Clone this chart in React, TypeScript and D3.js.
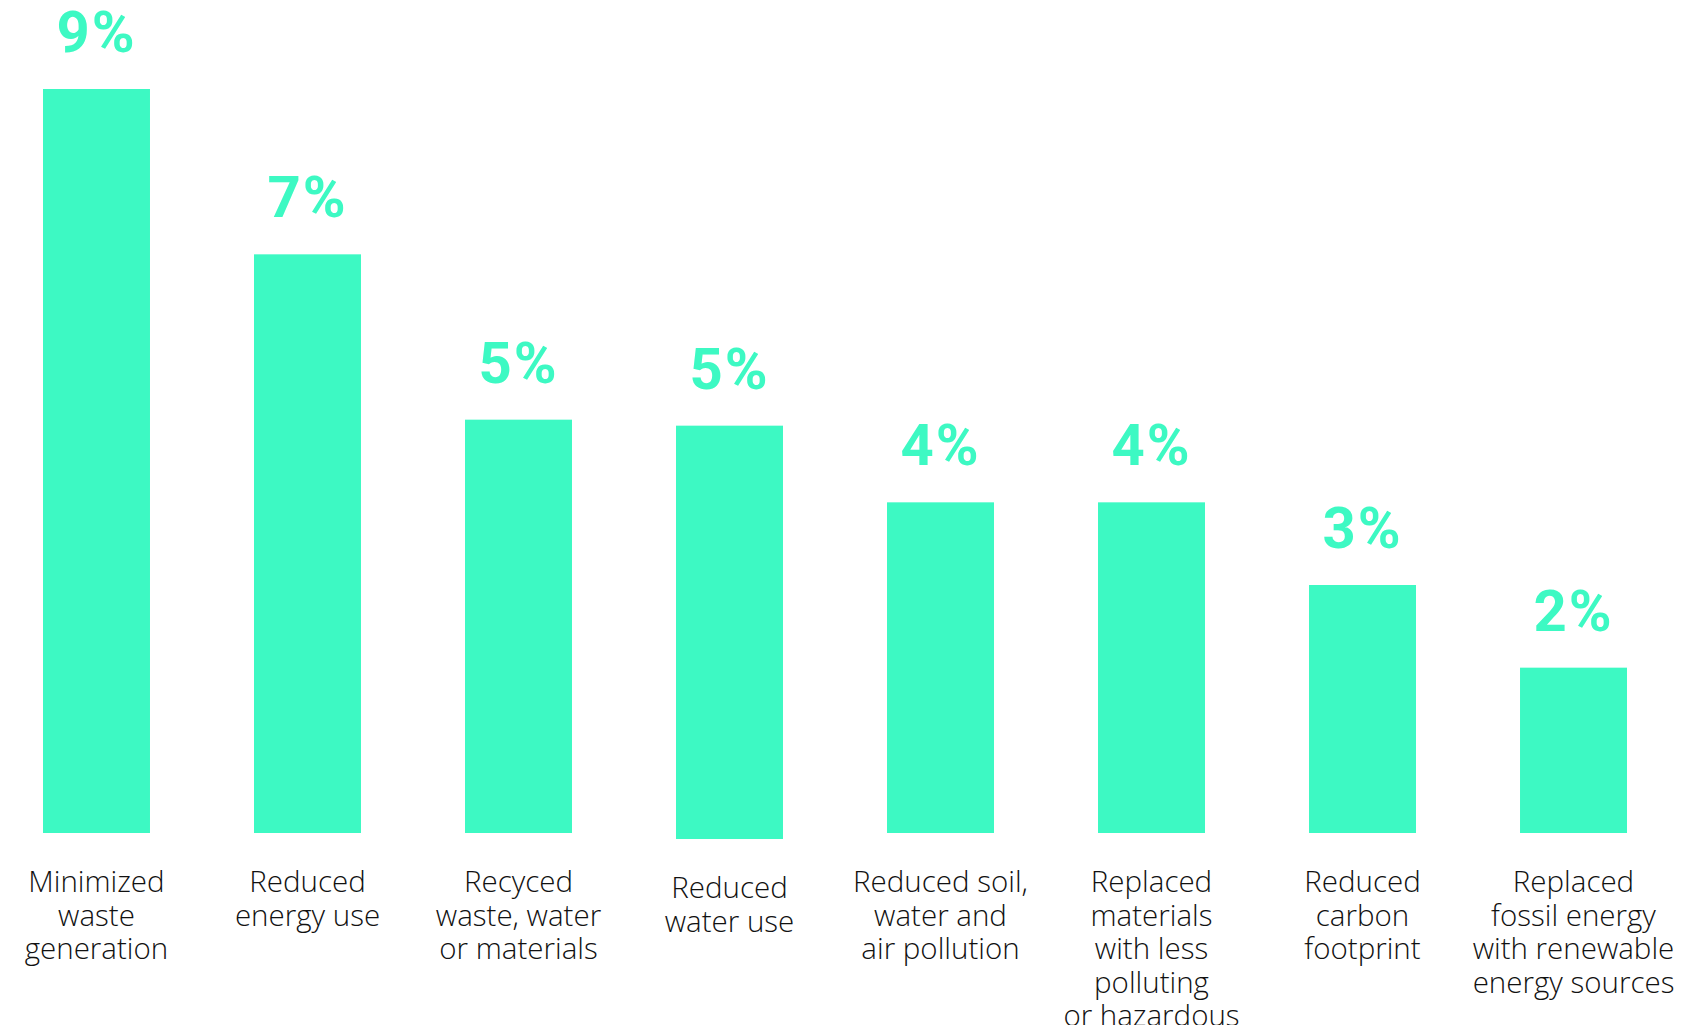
import React from "react";
import * as d3 from "d3";

const categories: string[][] = [
  ["Minimized", "waste", "generation"],
  ["Reduced", "energy use"],
  ["Recyced", "waste, water", "or materials"],
  ["Reduced", "water use"],
  ["Reduced soil,", "water and", "air pollution"],
  ["Replaced", "materials", "with less", "polluting", "or hazardous"],
  ["Reduced", "carbon", "footprint"],
  ["Replaced", "fossil energy", "with renewable", "energy sources"],
];
const values: number[] = [9, 7, 5, 5, 4, 4, 3, 2];
const valueLabels: string[] = ["9%", "7%", "5%", "5%", "4%", "4%", "3%", "2%"];

const W = 1686;
const H = 1025;
const BAR = "#3DF9C3";

export default function App() {
  const idx = values.map((_, i) => String(i));
  const x = d3.scaleBand<string>().domain(idx).range([43, 1627]).paddingInner(0.493).paddingOuter(0);
  const y = d3.scaleLinear().domain([0, 9]).range([833, 89]);
  const lineH = 33.5;

  return (
    <svg
      width={W}
      height={H}
      viewBox={`0 0 ${W} ${H}`}
      style={{ position: "absolute", left: 0, top: 0, background: "#fff" }}
    >
      {values.map((v, i) => {
        const key = String(i);
        const x0 = x(key)!;
        const cx = x0 + x.bandwidth() / 2;
        const shift = i === 3 ? 6 : 0;
        return (
          <g key={key} transform={`translate(0,${shift})`}>
            <rect x={x0} y={y(v)} width={x.bandwidth()} height={y(0) - y(v)} fill={BAR} />
            <text
              x={cx}
              y={y(v) - 37}
              textAnchor="middle"
              fill={BAR}
              style={{ fontFamily: "Roboto, sans-serif", fontWeight: 700, fontSize: 58, letterSpacing: 2 }}
            >
              {valueLabels[i]}
            </text>
            <text
              x={cx}
              y={y(0) + 59}
              textAnchor="middle"
              fill="#111"
              style={{ fontFamily: "'Open Sans', sans-serif", fontWeight: 300, fontSize: 29.5 }}
            >
              {categories[i].map((line, j) => (
                <tspan key={j} x={cx} dy={j === 0 ? 0 : lineH}>
                  {line}
                </tspan>
              ))}
            </text>
          </g>
        );
      })}
    </svg>
  );
}
